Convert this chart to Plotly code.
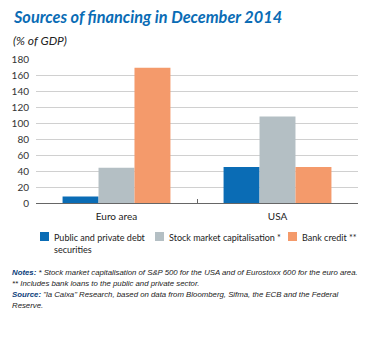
import plotly.graph_objects as go

categories = ["Euro area", "USA"]
series_names = ["Public and private debt<br>securities", "Stock market capitalisation *", "Bank credit **"]
debt = [8, 45]
stock = [44, 108]
bank = [169, 45]
colors = ["#0a6cb5", "#b4bfc4", "#f49a6b"]
y_ticks = [0, 20, 40, 60, 80, 100, 120, 140, 160, 180]
note_lines = [
    "<b><span style='color:#0a3d7a'>Notes:</span></b> * Stock market capitalisation of S&amp;P 500 for the USA and of Eurostoxx 600 for the euro area.",
    "** Includes bank loans to the public and private sector.",
    "<b><span style='color:#0a3d7a'>Source:</span></b> \"la Caixa\" Research, based on data from Bloomberg, Sifma, the ECB and the Federal",
    "Reserve.",
]

W, H = 373, 338
L, R, T, B = 36, 15, 59, 135
PW, PH = W - L - R, H - T - B


def px(x):
    return (x - L) / PW


def py(y):
    return (H - B - y) / PH


fig = go.Figure()
for name, vals, c in zip(series_names, [debt, stock, bank], colors):
    fig.add_trace(go.Bar(x=categories, y=vals, name=name, marker=dict(color=c, line=dict(width=0))))

fig.update_layout(
    width=W, height=H,
    margin=dict(l=L, r=R, t=T, b=B),
    paper_bgcolor="white", plot_bgcolor="white",
    barmode="group", bargap=0.33, bargroupgap=0,
    font=dict(family="Lato, Open Sans, sans-serif", color="#333333", size=10),
    showlegend=False,
)
fig.update_yaxes(range=[0, 180], tickvals=y_ticks, showgrid=True, gridcolor="#d0d0d0", gridwidth=1,
                 zeroline=False, showline=False, ticks="", tickfont=dict(size=10, color="#333333"),
                 ticklabelstandoff=6)
fig.update_xaxes(showline=True, linecolor="#666666", linewidth=1, ticks="inside", tickson="boundaries",
                 ticklen=4, tickcolor="#666666", tickfont=dict(size=10, color="#222222"),
                 ticklabelstandoff=4)

# Title and subtitle
fig.add_annotation(xref="paper", yref="paper", x=px(11), y=py(17), xanchor="left", yanchor="middle",
                   text="<b><i>Sources of financing in December 2014</i></b>", showarrow=False,
                   font=dict(size=16.3, color="#0a6cb5", family="Lato, Open Sans, sans-serif"))
fig.add_annotation(xref="paper", yref="paper", x=px(11), y=py(40), xanchor="left", yanchor="middle",
                   text="<i>(% of GDP)</i>", showarrow=False,
                   font=dict(size=12, color="#222222", family="Lato, Open Sans, sans-serif"))

# Manual legend
legend_x = [40, 155, 288]
for name, c, lx in zip(series_names, colors, legend_x):
    fig.add_shape(type="rect", xref="paper", yref="paper", x0=px(lx), x1=px(lx + 9),
                  y0=py(241), y1=py(232), fillcolor=c, line=dict(width=0))
    fig.add_annotation(xref="paper", yref="paper", x=px(lx + 12), y=py(230), xanchor="left", yanchor="top",
                       text=name, showarrow=False, align="left",
                       font=dict(size=9, color="#222222", family="Lato, Open Sans, sans-serif"))

# Notes, one line at a time
note_y = [272, 283, 294, 305]
for line, ny in zip(note_lines, note_y):
    fig.add_annotation(xref="paper", yref="paper", x=px(10), y=py(ny), xanchor="left", yanchor="middle",
                       text="<i>" + line + "</i>", showarrow=False, align="left",
                       font=dict(size=7.8, color="#222222", family="Liberation Sans Narrow, Arial Narrow, sans-serif"))

fig.write_html("out.html")
